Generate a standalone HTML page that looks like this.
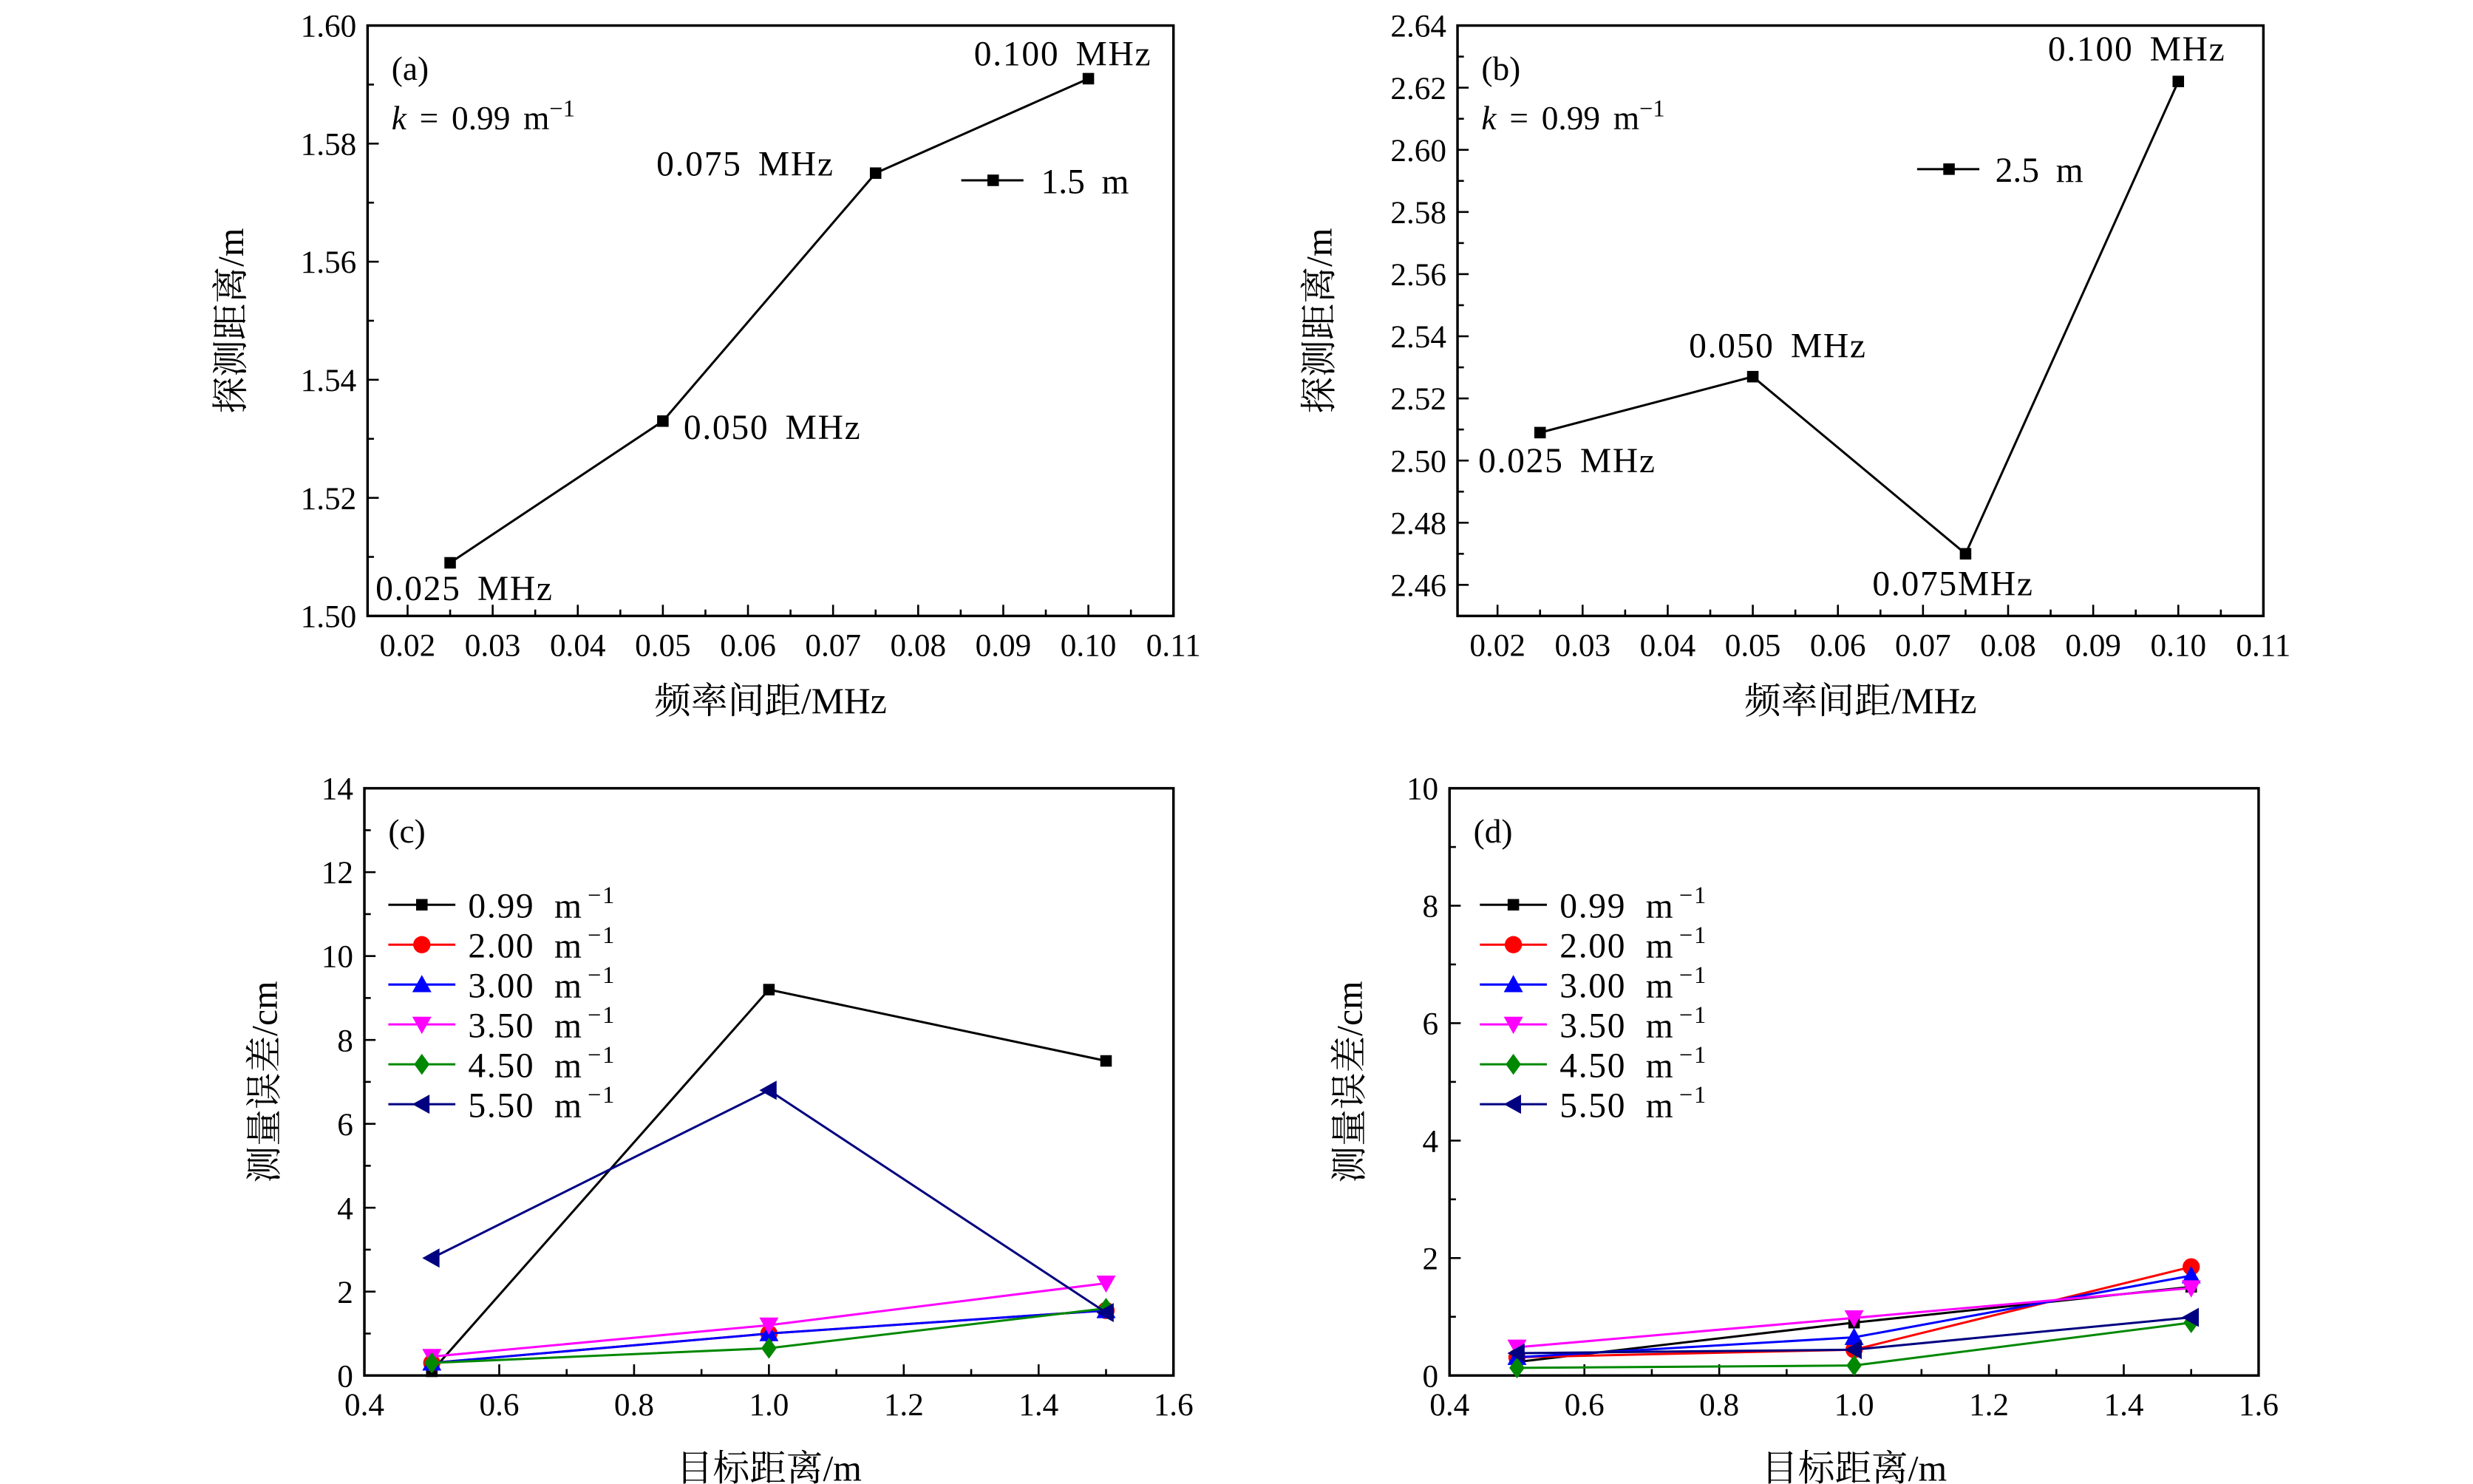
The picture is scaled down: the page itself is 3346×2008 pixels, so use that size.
<!DOCTYPE html>
<html><head><meta charset="utf-8"><style>
html,body{margin:0;padding:0;background:#fff;}
svg{display:block;}
text{font-family:"Liberation Serif","Noto Serif CJK SC",serif;fill:#000;}
</style></head><body>
<svg id="fig" width="3346" height="2008" viewBox="0 0 1549 930" xmlns="http://www.w3.org/2000/svg"></svg>
<script>
// ---- panel (a) data ----
const aX = [0.025, 0.05, 0.075, 0.1];
const aY = [1.509, 1.533, 1.575, 1.591];
const aLabels = ["0.025 MHz", "0.050 MHz", "0.075 MHz", "0.100 MHz"];
// ---- panel (b) data ----
const bX = [0.025, 0.05, 0.075, 0.1];
const bY = [2.509, 2.527, 2.470, 2.622];
const bLabels = ["0.025 MHz", "0.050 MHz", "0.075MHz", "0.100 MHz"];
const abXTicks = ["0.02","0.03","0.04","0.05","0.06","0.07","0.08","0.09","0.10","0.11"];
const aYTicks = ["1.50","1.52","1.54","1.56","1.58","1.60"];
const bYTicks = ["2.46","2.48","2.50","2.52","2.54","2.56","2.58","2.60","2.62","2.64"];
// ---- panels (c)/(d) ----
const cdX = [0.5, 1.0, 1.5];
const seriesNames = ["0.99 m", "2.00 m", "3.00 m", "3.50 m", "4.50 m", "5.50 m"];
const c099 = [0.1, 9.2, 7.5];
const c200 = [0.3, 1.0, 1.55];
const c300 = [0.3, 1.0, 1.55];
const c350 = [0.45, 1.2, 2.2];
const c450 = [0.3, 0.65, 1.6];
const c550 = [2.8, 6.8, 1.5];
const d099 = [0.23, 0.9, 1.51];
const d200 = [0.31, 0.44, 1.85];
const d300 = [0.31, 0.65, 1.7];
const d350 = [0.48, 0.98, 1.49];
const d450 = [0.13, 0.17, 0.9];
const d550 = [0.38, 0.44, 0.99];
const cdXTicks = ["0.4","0.6","0.8","1.0","1.2","1.4","1.6"];
const cYTicks = ["0","2","4","6","8","10","12","14"];
const dYTicks = ["0","2","4","6","8","10"];

const NS="http://www.w3.org/2000/svg";
const svg=document.getElementById('fig');
function el(tag,attrs,parent,txt){const e=document.createElementNS(NS,tag);for(const k in attrs)e.setAttribute(k,attrs[k]);if(txt!==undefined)e.textContent=txt;(parent||svg).appendChild(e);return e;}

const colors=["#000","#f00","#00f","#f0f","#080","#000080"];
const markers=["square","circle","up","down","diamond","left"];

function marker(g,type,x,y,c,s){
  s=s||5.5;let m;
  if(type==="square")m=el('rect',{x:x-s*0.8,y:y-s*0.8,width:s*1.6,height:s*1.6,fill:c},g);
  else if(type==="circle")m=el('circle',{cx:x,cy:y,r:s*0.9,fill:c},g);
  else if(type==="up")m=el('polygon',{points:`${x},${y-s} ${x-s},${y+s*0.8} ${x+s},${y+s*0.8}`,fill:c},g);
  else if(type==="down")m=el('polygon',{points:`${x},${y+s} ${x-s},${y-s*0.8} ${x+s},${y-s*0.8}`,fill:c},g);
  else if(type==="diamond")m=el('polygon',{points:`${x},${y-s*1.1} ${x+s*0.8},${y} ${x},${y+s*1.1} ${x-s*0.8},${y}`,fill:c},g);
  else m=el('polygon',{points:`${x-s},${y} ${x+s*0.8},${y-s} ${x+s*0.8},${y+s}`,fill:c},g);
  return m;
}

function axes(p){
  const g=el('g',{});
  
  
  el('rect',{x:p.L,y:p.T,width:p.R-p.L,height:p.B-p.T,fill:'none',stroke:'#000','stroke-width':1.6},g);
  const sx=v=>p.L+(v-p.x0)/(p.x1-p.x0)*(p.R-p.L);
  const sy=v=>p.B-(v-p.y0)/(p.y1-p.y0)*(p.B-p.T);
  p.xTicks.forEach((t,i)=>{
    const v=parseFloat(t);const x=sx(v);
    el('line',{x1:x,y1:p.B,x2:x,y2:p.B-7,stroke:'#000','stroke-width':1.2},g);
    const lbl=el('text',{x:x,y:p.B+25,'font-size':20,'text-anchor':'middle'},g,t);
    
    
    const mv=v+p.xStep/2; if(mv<p.x1){const mx=sx(mv);el('line',{x1:mx,y1:p.B,x2:mx,y2:p.B-4,stroke:'#000','stroke-width':1.2},g);}
  });
  p.yTicks.forEach((t,i)=>{
    const v=parseFloat(t);const y=sy(v);
    el('line',{x1:p.L,y1:y,x2:p.L+7,y2:y,stroke:'#000','stroke-width':1.2},g);
    const lbl=el('text',{x:p.L-7,y:y+7,'font-size':20,'text-anchor':'end'},g,t);
    
    
    const mv=v+p.yStep/2; if(mv<p.y1){const my=sy(mv);el('line',{x1:p.L,y1:my,x2:p.L+4,y2:my,stroke:'#000','stroke-width':1.2},g);}
  });
  const xt=el('text',{x:(p.L+p.R)/2,y:p.xtY,'font-size':23,'text-anchor':'middle'},g,p.xTitle);
  
  
  const yt=el('text',{x:0,y:0,'font-size':23,'text-anchor':'middle',transform:`translate(${p.ytX},${(p.T+p.B)/2}) rotate(-90)`},g,p.yTitle);
  
  
  const pl=el('text',{x:p.L+15,y:p.T+34,'font-size':21},g,p.tag);
  
  
  return {sx,sy,g};
}

function series(ax,xs,ys,c,m,name){
  const g=el('g',{});
  
  
  el('polyline',{points:xs.map((x,i)=>ax.sx(x)+','+ax.sy(ys[i])).join(' '),fill:'none',stroke:c,'stroke-width':1.4},g);
  xs.forEach((x,i)=>{const mk=marker(g,m,ax.sx(x),ax.sy(ys[i]),c,m==="square"?4.5:6);
    
    });
}
function ktext(x,y){
  const t=el('text',{x:x,y:y,'font-size':21,'word-spacing':3});
  
  
  el('tspan',{'font-style':'italic'},t,'k');
  el('tspan',{},t,' = 0.99 m');
  el('tspan',{dy:-8,'font-size':15},t,'−1');
}
function annotate(x,y,s){const t=el('text',{x:x,y:y,'font-size':22,'letter-spacing':0.8,'word-spacing':4},svg,s);
  
  }

// panel a
const A=axes({name:'panel-a',L:230,R:735,T:16,B:386,x0:0.0153,x1:0.11,y0:1.50,y1:1.60,xTicks:abXTicks,yTicks:aYTicks,xStep:0.01,yStep:0.02,xTitle:'频率间距/MHz',yTitle:'探测距离/m',xtY:447,ytX:152,tag:'(a)'});
series(A,aX,aY,'#000','square','series-1-5m');
ktext(245,81);
const aPos=[[235,376],[411,275+0],[411,110],[610,41]];
aPos[1]=[428,275];
aLabels.forEach((s,i)=>annotate(aPos[i][0],aPos[i][1],s));
{const g=el('g',{});
 el('line',{x1:602,y1:113,x2:641,y2:113,stroke:'#000','stroke-width':1.4},g);marker(g,'square',622,113,'#000',4.5);
 el('text',{x:652,y:121,'font-size':22,'word-spacing':5},g,'1.5 m');}

// panel b
const B=axes({name:'panel-b',L:913,R:1418,T:16,B:386,x0:0.0153,x1:0.11,y0:2.45,y1:2.64,xTicks:abXTicks,yTicks:bYTicks,xStep:0.01,yStep:0.02,xTitle:'频率间距/MHz',yTitle:'探测距离/m',xtY:447,ytX:834,tag:'(b)'});
series(B,bX,bY,'#000','square','series-2-5m');
ktext(928,81);
const bPos=[[926,296],[1058,224],[1173,373],[1283,38]];
bLabels.forEach((s,i)=>annotate(bPos[i][0],bPos[i][1],s));
{const g=el('g',{});
 el('line',{x1:1201,y1:106,x2:1240,y2:106,stroke:'#000','stroke-width':1.4},g);marker(g,'square',1221,106,'#000',4.5);
 el('text',{x:1250,y:114,'font-size':22,'word-spacing':5},g,'2.5 m');}

// panels c, d
function cdPanel(p,data,legX){
  const ax=axes(p);
  data.forEach((ys,i)=>series(ax,cdX,ys,colors[i],markers[i],'series-'+seriesNames[i].replace(/[ .]/g,'-')));
  seriesNames.forEach((n,i)=>{
    const y=567+i*25;
    const g=el('g',{});
    
    
    el('line',{x1:legX,y1:y,x2:legX+42,y2:y,stroke:colors[i],'stroke-width':1.4},g);
    marker(g,markers[i],legX+21,y,colors[i],markers[i]==="square"?4.5:6);
    const t=el('text',{x:legX+50,y:y+8,'font-size':22,'letter-spacing':0.8,'word-spacing':6},g,n);
    el('tspan',{dx:3,dy:-9,'font-size':15},t,'−1');
  });
}
cdPanel({name:'panel-c',L:228,R:735,T:494,B:862,x0:0.4,x1:1.6,y0:0,y1:14,xTicks:cdXTicks,yTicks:cYTicks,xStep:0.2,yStep:2,xTitle:'目标距离/m',yTitle:'测量误差/cm',xtY:928,ytX:173,tag:'(c)'},[c099,c200,c300,c350,c450,c550],243);
cdPanel({name:'panel-d',L:908,R:1415,T:494,B:862,x0:0.4,x1:1.6,y0:0,y1:10,xTicks:cdXTicks,yTicks:dYTicks,xStep:0.2,yStep:2,xTitle:'目标距离/m',yTitle:'测量误差/cm',xtY:928,ytX:853,tag:'(d)'},[d099,d200,d300,d350,d450,d550],927);
</script>
</body></html>
